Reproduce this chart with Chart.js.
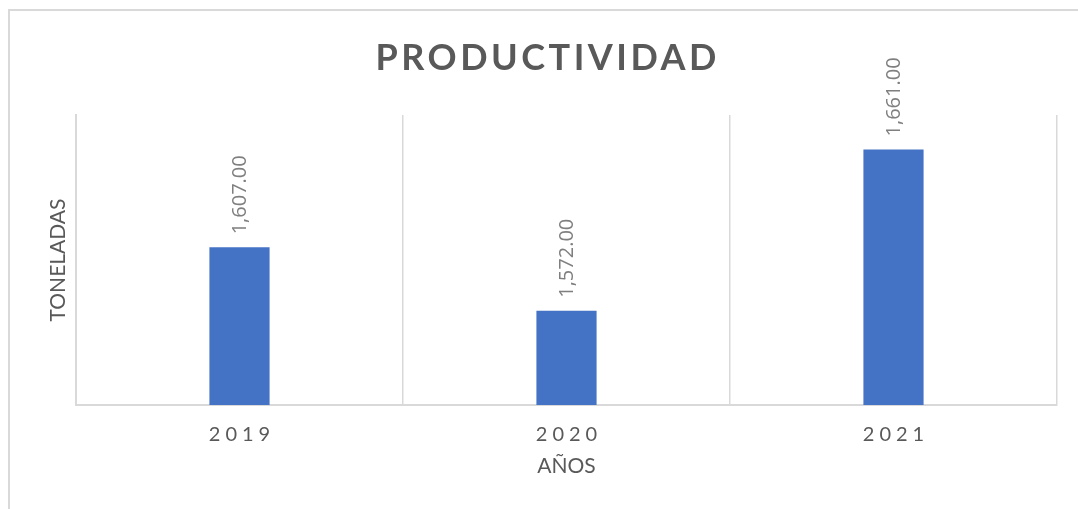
<!DOCTYPE html>
<html lang="es">
<head>
  <meta charset="UTF-8">
  <title>Productividad</title>
  <script src="https://cdn.jsdelivr.net/npm/chart.js@4.4.1/dist/chart.umd.min.js"></script>
  <style>
    html, body { margin: 0; padding: 0; background: #fff; }
    #wrap { width: 1078px; height: 509px; position: relative; }
  </style>
</head>
<body>
  <div id="wrap"><canvas id="chart" width="1078" height="509"></canvas></div>
  <script>
    const years = ['2019', '2020', '2021'];
    const toneladas = [1607, 1572, 1661];
    const chartTitle = 'PRODUCTIVIDAD';
    const yTitle = 'TONELADAS';
    const xTitle = 'AÑOS';

    const gray = '#595959';
    const lineGray = '#d9d9d9';

    // marco, titulo, etiquetas del eje x y etiquetas de datos
    const extras = {
      id: 'extras',
      beforeDraw(chart) {
        const ctx = chart.ctx;
        ctx.save();
        ctx.strokeStyle = lineGray;
        ctx.lineWidth = 2;
        ctx.beginPath();
        ctx.moveTo(9, 509);
        ctx.lineTo(9, 10);
        ctx.lineTo(1078, 10);
        ctx.stroke();
        ctx.restore();
      },
      afterDraw(chart) {
        const ctx = chart.ctx;
        const xs = chart.scales.x;
        ctx.save();
        // titulo
        ctx.fillStyle = gray;
        ctx.font = 'bold 36px Lato';
        ctx.letterSpacing = '3.5px';
        ctx.textAlign = 'center';
        ctx.textBaseline = 'middle';
        ctx.fillText(chartTitle, 546 + 1.75, 58);
        // años
        ctx.font = '20px Lato';
        ctx.letterSpacing = '5px';
        years.forEach((y, i) => {
          ctx.fillText(y, xs.getPixelForValue(i) + 2.5, 435);
        });
        ctx.restore();

        // valores
        ctx.save();
        ctx.fillStyle = '#7f7f7f';
        ctx.font = '20px "Open Sans"';
        ctx.textAlign = 'left';
        ctx.textBaseline = 'middle';
        const meta = chart.getDatasetMeta(0);
        meta.data.forEach((bar, i) => {
          const txt = toneladas[i].toLocaleString('en-US', { minimumFractionDigits: 2, maximumFractionDigits: 2 });
          ctx.save();
          ctx.translate(bar.x + 1, bar.y - 13);
          ctx.rotate(-Math.PI / 2);
          ctx.fillText(txt, 0, 0);
          ctx.restore();
        });
        ctx.restore();
      }
    };

    const ctx = document.getElementById('chart').getContext('2d');
    const myChart = new Chart(ctx, {
      type: 'bar',
      data: {
        labels: years,
        datasets: [{
          label: 'Toneladas',
          data: toneladas,
          backgroundColor: '#4472C4',
          borderWidth: 0,
          barPercentage: 0.184,
          categoryPercentage: 1
        }]
      },
      options: {
        responsive: false,
        animation: false,
        layout: { padding: { top: 115, left: 38, right: 21, bottom: 30 } },
        plugins: {
          legend: { display: false },
          tooltip: { enabled: false },
          title: { display: false }
        },
        scales: {
          x: {
            offset: true,
            grid: { color: lineGray, lineWidth: 1.5, offset: true, drawTicks: false },
            border: { color: lineGray, width: 2 },
            ticks: { display: false },
            title: {
              display: true,
              text: xTitle,
              color: gray,
              font: { family: 'Lato', size: 21 },
              padding: 0
            },
            afterFit(scale) { scale.height = 74; }
          },
          y: {
            min: 1520,
            max: 1680,
            grid: { display: false },
            border: { color: lineGray, width: 2 },
            ticks: { display: false },
            title: {
              display: true,
              text: yTitle,
              color: gray,
              font: { family: 'Lato', size: 21 },
              padding: { top: 8, bottom: 0 }
            },
            afterFit(scale) { scale.width = 38; }
          }
        }
      },
      plugins: [extras]
    });
  </script>
</body>
</html>
